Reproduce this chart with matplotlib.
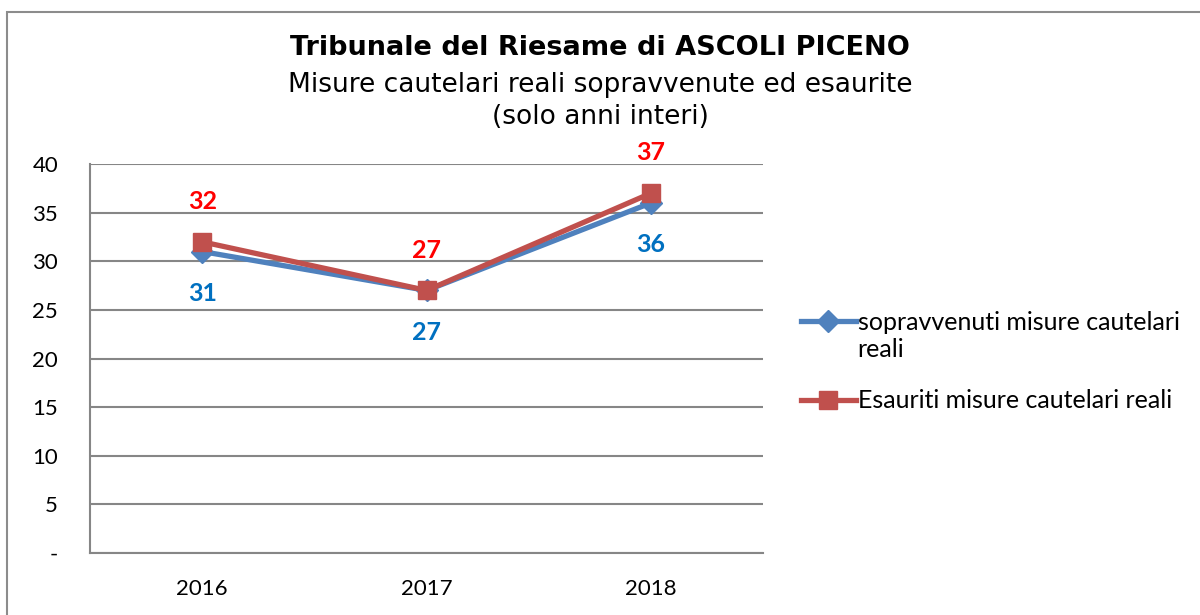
import matplotlib.pyplot as plt
from matplotlib.patches import Rectangle

years = ["2016", "2017", "2018"]
sopravvenuti = [31, 27, 36]
esauriti = [32, 27, 37]
yticks = [0, 5, 10, 15, 20, 25, 30, 35, 40]
ytick_labels = ["-", "5", "10", "15", "20", "25", "30", "35", "40"]

label_font = "Lato"
blue_line, red_line = "#4F81BD", "#C0504D"
blue_text, red_text = "#0070C0", "#FF0000"
grid_col = "#868686"

fig = plt.figure(figsize=(12, 6.15), dpi=100)
ax = fig.add_axes([0.075, 0.1008, 0.561, 0.6325])

# outer chart frame
fig.patches.append(Rectangle((0.006, -0.05), 1.1, 1.03, transform=fig.transFigure,
                             fill=False, edgecolor="#8c8c8c", linewidth=1.5))

x = [i + 0.5 for i in range(len(years))]
ax.plot(x, sopravvenuti, color=blue_line, lw=3.8, marker="D", ms=11,
        label="sopravvenuti misure cautelari", zorder=3)
ax.plot(x, esauriti, color=red_line, lw=3.8, marker="s", ms=13,
        label="Esauriti misure cautelari reali", zorder=4)

for xi, v in zip(x, sopravvenuti):
    ax.annotate(str(v), (xi, v), xytext=(0, -30), textcoords="offset points",
                ha="center", va="center", color=blue_text, fontsize=18,
                fontweight="bold", family=label_font)
for xi, v in zip(x, esauriti):
    ax.annotate(str(v), (xi, v), xytext=(0, 29), textcoords="offset points",
                ha="center", va="center", color=red_text, fontsize=18,
                fontweight="bold", family=label_font)

ax.set_xlim(0, 3)
ax.set_ylim(0, 40)
ax.set_xticks(x)
ax.set_xticklabels(years, family=label_font, fontsize=16)
ax.set_yticks(yticks)
ax.set_yticklabels(ytick_labels, family=label_font, fontsize=16)
ax.tick_params(length=0)
ax.tick_params(axis="y", pad=23)
ax.tick_params(axis="x", pad=19)
ax.grid(axis="y", color=grid_col, lw=1.5)
ax.set_axisbelow(True)
for side in ["top", "right"]:
    ax.spines[side].set_visible(False)
for side in ["left", "bottom"]:
    ax.spines[side].set_color(grid_col)
    ax.spines[side].set_linewidth(1.5)

leg = fig.legend(loc="upper left", bbox_to_anchor=(0.657, 0.515), frameon=False,
                 prop={"family": label_font, "size": 18}, handlelength=2.2,
                 handletextpad=0.08, labelspacing=2.22, borderpad=0)
# wrapped second line of the first legend entry
fig.text(0.714, 0.431, "reali", ha="left", va="center",
         family=label_font, fontsize=18)

fig.text(0.5, 0.922, "Tribunale del Riesame di ASCOLI PICENO", ha="center",
         va="center", fontsize=19.5, fontweight="bold")
fig.text(0.5, 0.862, "Misure cautelari reali sopravvenute ed esaurite", ha="center",
         va="center", fontsize=19)
fig.text(0.5, 0.81, "(solo anni interi)", ha="center", va="center", fontsize=19)

fig.savefig("out.png", dpi=100)
